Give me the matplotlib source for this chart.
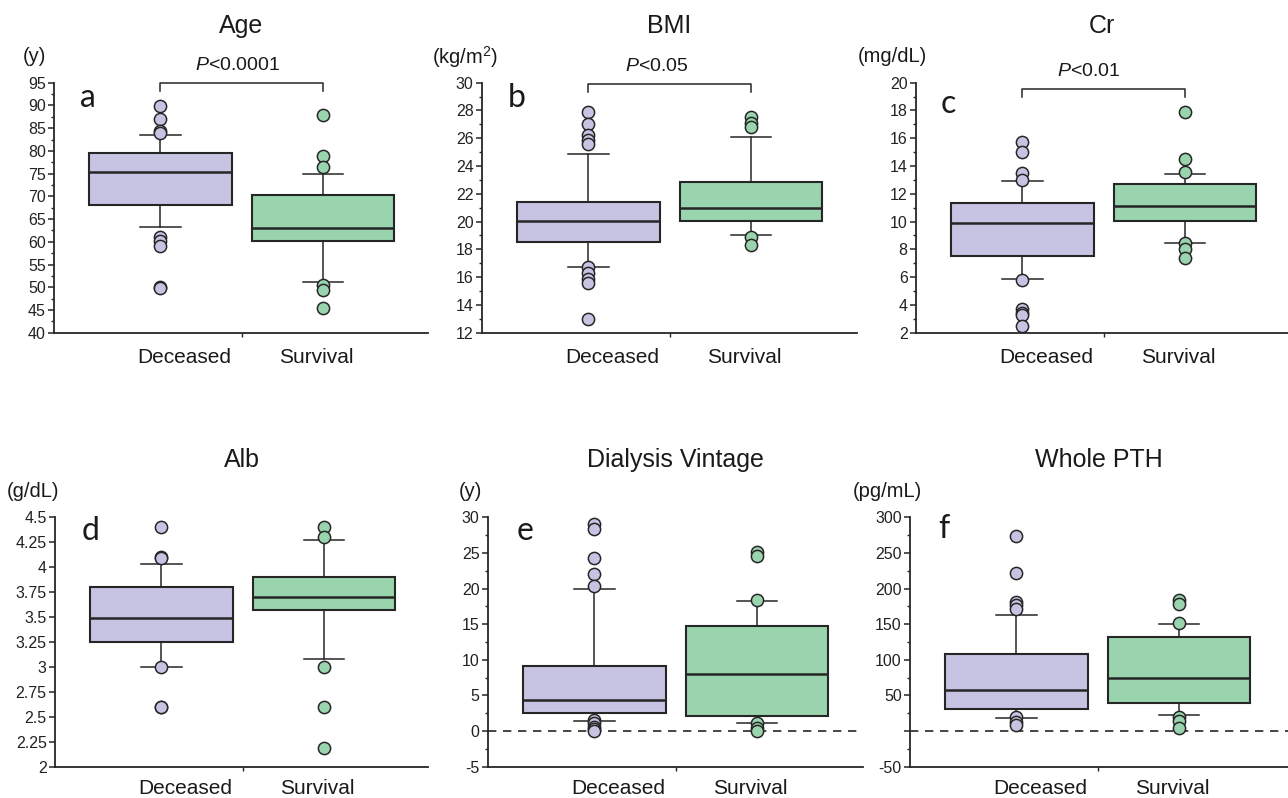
import matplotlib
matplotlib.use("Agg")
import matplotlib.pyplot as plt
from matplotlib.ticker import MultipleLocator, FuncFormatter, FixedLocator

plt.rcParams['font.family'] = ['Liberation Sans', 'DejaVu Sans']
plt.rcParams['mathtext.fontset'] = 'custom'
plt.rcParams['mathtext.rm'] = 'Liberation Sans'
plt.rcParams['mathtext.it'] = 'Liberation Sans:italic'

groups = ['Deceased', 'Survival']
colors = ['#c6c4e2', '#9ad4ae']

# q1, median, q3 / lower and upper whisker / outliers, per group
age_box = [[68.2, 75.4, 79.6], [60.1, 63.0, 70.4]]
age_whis = [[63.2, 83.6], [51.2, 75.0]]
age_out = [[89.9, 87.0, 84.4, 83.9, 61.1, 60.2, 59.1, 50.1, 49.8],
           [87.9, 78.9, 76.4, 50.6, 49.4, 45.4]]

bmi_box = [[18.5, 20.06, 21.4], [20.04, 21.0, 22.87]]
bmi_whis = [[16.7, 24.86], [19.03, 26.06]]
bmi_out = [[27.9, 27.0, 26.2, 25.9, 25.6, 16.7, 16.3, 15.9, 15.55, 13.0],
           [27.5, 27.1, 26.8, 18.9, 18.3]]

cr_box = [[7.54, 9.92, 11.31], [10.06, 11.14, 12.7]]
cr_whis = [[5.86, 12.9], [8.48, 13.45]]
cr_out = [[15.7, 14.98, 13.47, 13.0, 5.8, 3.7, 3.4, 3.3, 2.5],
          [17.86, 14.5, 13.57, 8.43, 8.0, 7.35]]

alb_box = [[3.25, 3.49, 3.80], [3.574, 3.705, 3.90]]
alb_whis = [[3.0, 4.03], [3.076, 4.27]]
alb_out = [[4.4, 4.1, 4.09, 3.0, 2.6, 2.6],
           [4.4, 4.306, 3.0, 2.6, 2.19]]

vin_box = [[2.58, 4.36, 9.18], [2.16, 8.05, 14.7]]
vin_whis = [[1.45, 19.99], [1.08, 18.3]]
vin_out = [[29.0, 28.3, 24.3, 22.1, 20.4, 1.5, 1.1, 0.6, 0.24, 0.0],
           [25.1, 24.6, 18.4, 1.2, 0.5, 0.05]]

pth_box = [[31.4, 57.6, 108.6], [39.0, 74.0, 132.5]]
pth_whis = [[18.8, 163.4], [22.5, 150.3]]
pth_out = [[273.3, 221.9, 180.7, 177.0, 170.8, 19.7, 12.6, 8.0],
           [184.4, 178.3, 152.1, 19.7, 14.6, 4.3]]

titles = ['Age', 'BMI', 'Cr', 'Alb', 'Dialysis Vintage', 'Whole PTH']
units = ['(y)', '(kg/m$^2$)', '(mg/dL)', '(g/dL)', '(y)', '(pg/mL)']
letters = ['a', 'b', 'c', 'd', 'e', 'f']
pvals = ['$P$<0.0001', '$P$<0.05', '$P$<0.01', None, None, None]

panels = [
    (age_box, age_whis, age_out),
    (bmi_box, bmi_whis, bmi_out),
    (cr_box, cr_whis, cr_out),
    (alb_box, alb_whis, alb_out),
    (vin_box, vin_whis, vin_out),
    (pth_box, pth_whis, pth_out),
]

# ymin, ymax, major, minor
yscales = [(40, 95, 5, 2.5), (12, 30, 2, 1), (2, 20, 2, 1),
           (2, 4.5, 0.25, None), (-5, 30, 5, 2.5), (-50, 300, 50, 25)]

W, H = 1288, 798
fig = plt.figure(figsize=(W / 100, H / 100), dpi=100)

# axes bounds in pixels: left, right, top, bottom
bounds = [(54, 428, 82.7, 332.7), (482, 857, 82.7, 332.7), (916, 1288, 82.7, 332.7),
          (55, 428, 517.3, 766.7), (488, 863, 517.3, 766.7), (910, 1288, 517.3, 766.7)]
letter_pos = [(0.505, 0.904), (0.505, 0.903), (0.497, 0.88),
              (0.509, 0.909), (0.523, 0.909), (0.517, 0.917)]
unit_dx = [-31, -50, -58, -48, -29, -57]
xlab_pad = [11, 11, 11, 8.5, 8.5, 8.5]
bracket_dpx = [0, 1.6, 6]
ptext_dx = [-3, -9, -11]

ink = '#262626'
pxu = 162.5
x0 = 0.345

for i, (box, whis, out) in enumerate(panels):
    l, r, t, b = bounds[i]
    ax = fig.add_axes([l / W, 1 - b / H, (r - l) / W, (b - t) / H])
    stats = []
    for k in range(2):
        stats.append(dict(q1=box[k][0], med=box[k][1], q3=box[k][2],
                          whislo=whis[k][0], whishi=whis[k][1],
                          fliers=out[k], label=groups[k]))
    res = ax.bxp(stats, positions=[1, 2], widths=0.875, capwidths=0.25,
                 patch_artist=True, showfliers=True,
                 boxprops=dict(edgecolor=ink, linewidth=1.5),
                 medianprops=dict(color=ink, linewidth=1.8),
                 whiskerprops=dict(color=ink, linewidth=1.1),
                 capprops=dict(color=ink, linewidth=1.1))
    for k, patch in enumerate(res['boxes']):
        patch.set_facecolor(colors[k])
    for k, fl in enumerate(res['fliers']):
        fl.set(marker='o', markersize=8.8, markerfacecolor=colors[k],
               markeredgecolor=ink, markeredgewidth=1.1, linestyle='none')

    ymin, ymax, major, minor = yscales[i]
    ax.set_ylim(ymin, ymax)
    ax.set_xlim(x0, x0 + (r - l) / pxu)
    ax.yaxis.set_major_locator(MultipleLocator(major))
    if minor:
        ax.yaxis.set_minor_locator(MultipleLocator(minor))
    if i == 5:
        ax.yaxis.set_major_formatter(FuncFormatter(lambda v, p: '' if abs(v) < 1e-9 else f'{v:g}'))
    else:
        ax.yaxis.set_major_formatter(FuncFormatter(lambda v, p: f'{v:g}'))
    ax.tick_params(axis='y', which='major', length=4, width=1.1, color=ink,
                   labelsize=11.5, labelcolor='#222222', pad=2)
    ax.tick_params(axis='y', which='minor', length=2.5, width=1, color=ink)

    ax.xaxis.set_major_locator(FixedLocator([1.145, 1.96]))
    ax.set_xticklabels(groups)
    ax.xaxis.set_minor_locator(FixedLocator([1.5]))
    ax.tick_params(axis='x', which='major', length=0, labelsize=15,
                   pad=xlab_pad[i], labelcolor='#1a1a1a')
    ax.tick_params(axis='x', which='minor', length=3, width=1, color=ink)

    for s in ['top', 'right']:
        ax.spines[s].set_visible(False)
    for s in ['left', 'bottom']:
        ax.spines[s].set_linewidth(1.3)
        ax.spines[s].set_color(ink)

    ax.set_title(titles[i], fontsize=18, pad=36, color='#1a1a1a')

    lx, ly = letter_pos[i]
    ax.text(lx, ly, letters[i], transform=ax.get_xaxis_transform(),
            fontsize=23, family='Lato', color='#1a1a1a', ha='left', va='baseline')

    fig.text((l + unit_dx[i]) / W, 1 - (t - 26) / H, units[i], fontsize=14.5,
             color='#1a1a1a', ha='left', va='center')

    if i == 5 or i == 4:
        ax.axhline(0, color=ink, linewidth=1.2, linestyle=(0, (5, 4)), zorder=0)

    if pvals[i]:
        upp = (ymax - ymin) / 250.0
        yb = ymax - bracket_dpx[i] * upp
        leg = 8 * upp
        ax.plot([1, 1, 2, 2], [yb - leg, yb, yb, yb - leg], color=ink,
                linewidth=1.1, clip_on=False)
        ax.annotate(pvals[i], xy=(1.5, yb), xytext=(ptext_dx[i], 12.5),
                    textcoords='offset points', ha='center', va='center',
                    fontsize=14, color='#1a1a1a', annotation_clip=False)

fig.savefig('out.png', dpi=100)
